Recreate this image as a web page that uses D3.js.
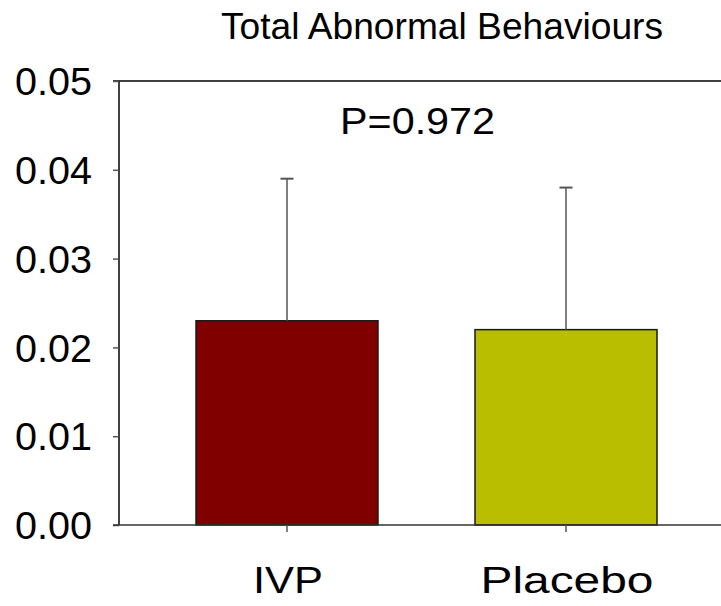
<!DOCTYPE html>
<html>
<head>
<meta charset="utf-8">
<script src="https://cdn.jsdelivr.net/npm/d3@7"></script>
<style>
  html, body { margin: 0; padding: 0; background: #fff; }
  svg { display: block; }
  text { font-family: "Liberation Sans", Arial, sans-serif; fill: #000; }
</style>
</head>
<body>
<svg id="chart" width="721" height="606"></svg>
<script>
// ---- data ----
const categories = ["IVP", "Placebo"];
const means = [0.023, 0.022];
const errors = [0.016, 0.016];           // upper error (mean + error)
const barColors = ["#800000", "#b9bf00"];
const yTicks = [0.00, 0.01, 0.02, 0.03, 0.04, 0.05];
const title = "Total Abnormal Behaviours";
const pLabel = "P=0.972";

// ---- layout ----
const svg = d3.select("#chart");
const x0 = 119, x1 = 721, yTop = 81, yBottom = 525;

const y = d3.scaleLinear().domain([0, 0.05]).range([yBottom, yTop]);
const x = d3.scaleBand().domain(categories).range([56.5, 796.5])
  .paddingInner(0.3477).paddingOuter(0.5);

// top border line at 0.05
svg.append("line")
  .attr("x1", x0 - 6).attr("x2", x1)
  .attr("y1", y(0.05)).attr("y2", y(0.05))
  .attr("stroke", "#000").attr("stroke-width", 1.5);

// bars
svg.selectAll("rect.bar").data(categories).enter().append("rect")
  .attr("class", "bar")
  .attr("x", d => x(d))
  .attr("width", x.bandwidth())
  .attr("y", (d, i) => y(means[i]))
  .attr("height", (d, i) => y(0) - y(means[i]))
  .attr("fill", (d, i) => barColors[i])
  .attr("stroke", "#1a1a1a").attr("stroke-width", 1.5);

// error bars (upper only)
const eb = svg.selectAll("g.err").data(categories).enter().append("g").attr("class", "err");
eb.append("line")
  .attr("x1", d => x(d) + x.bandwidth() / 2)
  .attr("x2", d => x(d) + x.bandwidth() / 2)
  .attr("y1", (d, i) => y(means[i]))
  .attr("y2", (d, i) => y(means[i] + errors[i]))
  .attr("stroke", "#555").attr("stroke-width", 1.5);
eb.append("line")
  .attr("x1", d => x(d) + x.bandwidth() / 2 - 6.5)
  .attr("x2", d => x(d) + x.bandwidth() / 2 + 6.5)
  .attr("y1", (d, i) => y(means[i] + errors[i]))
  .attr("y2", (d, i) => y(means[i] + errors[i]))
  .attr("stroke", "#555").attr("stroke-width", 2);

// y axis
const yAxis = svg.append("g")
  .attr("transform", `translate(${x0},0)`)
  .call(d3.axisLeft(y).tickValues(yTicks).tickFormat(d3.format(".2f")).tickSize(6).tickPadding(21));
yAxis.select(".domain").attr("stroke", "#000").attr("stroke-width", 1.5)
  .attr("d", `M0,${yTop}V${yBottom}`);
yAxis.selectAll(".tick line").attr("stroke", "#555").attr("stroke-width", 1.5);
yAxis.selectAll(".tick text")
  .attr("font-family", "'Liberation Sans', Arial, sans-serif")
  .attr("font-size", 38).attr("fill", "#000")
  .attr("dy", "0.36em")
  .attr("textLength", 77).attr("lengthAdjust", "spacingAndGlyphs");

// x axis
const xAxis = svg.append("g")
  .attr("transform", `translate(0,${yBottom})`)
  .call(d3.axisBottom(x).tickSize(7).tickFormat(""));
xAxis.select(".domain").attr("stroke", "#333").attr("stroke-width", 1.5)
  .attr("d", `M${x0 - 6},0H${x1}`);
xAxis.selectAll(".tick line").attr("stroke", "#555").attr("stroke-width", 1.5);

// category labels
const catWidths = [70, 173];
svg.selectAll("text.cat").data(categories).enter().append("text")
  .attr("class", "cat")
  .attr("x", d => x(d) + x.bandwidth() / 2 + 1)
  .attr("y", 593)
  .attr("text-anchor", "middle")
  .attr("font-size", 36)
  .attr("textLength", (d, i) => catWidths[i]).attr("lengthAdjust", "spacingAndGlyphs")
  .text(d => d);

// title
svg.append("text")
  .attr("x", 442).attr("y", 39)
  .attr("text-anchor", "middle")
  .attr("font-size", 37)
  .attr("textLength", 442).attr("lengthAdjust", "spacingAndGlyphs")
  .text(title);

// p value
svg.append("text")
  .attr("x", 417.5).attr("y", 134)
  .attr("text-anchor", "middle")
  .attr("font-size", 36)
  .attr("textLength", 155).attr("lengthAdjust", "spacingAndGlyphs")
  .text(pLabel);
</script>
</body>
</html>
